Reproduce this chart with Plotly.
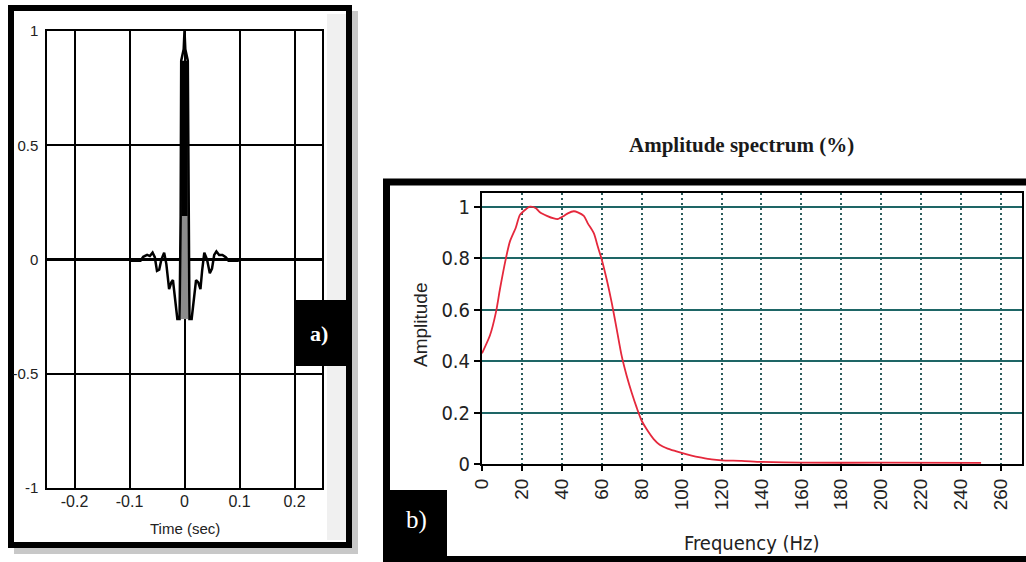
import plotly.graph_objects as go

W, H = 1026, 562

# ---------------- data ----------------
# a) wavelet (time in s, normalised amplitude)
wave_t = [-0.2, -0.1, -0.097, -0.08, -0.075, -0.068, -0.063, -0.058, -0.054, -0.05,
          -0.046, -0.042, -0.037, -0.033, -0.028, -0.024, -0.021, -0.017, -0.013, -0.009,
          -0.007, -0.006, -0.0015, 0.0, 0.0015, 0.006, 0.007, 0.009, 0.013, 0.017,
          0.021, 0.025, 0.029, 0.032, 0.036, 0.041, 0.046, 0.05, 0.054, 0.058,
          0.063, 0.069, 0.075, 0.08, 0.097, 0.1, 0.2]
wave_amp = [0, 0, -0.005, -0.005, 0.012, 0.02, 0.015, 0.03, 0.01, -0.05,
            -0.045, 0.0, 0.03, -0.02, -0.13, -0.1, -0.09, -0.18, -0.26, -0.26,
            0.19, 0.87, 0.92, 1.0, 0.92, 0.87, 0.19, -0.26, -0.26, -0.16,
            -0.09, -0.1, -0.13, -0.05, 0.03, 0.0, -0.06, -0.04, 0.02, 0.035,
            0.02, 0.02, 0.01, -0.005, -0.005, 0, 0]
# central band of the wavelet (dense oscillation drawn as filled bands)
core_t = [0.0]
core_low = [0.19]
core_high = [0.87]
band_low = [-0.26]
band_high = [0.19]

t_ticks = [-0.2, -0.1, 0, 0.1, 0.2]
t_ticktext = ["-0.2", "-0.1", "0", "0.1", "0.2"]
a_ticks = [-1, -0.5, 0, 0.5, 1]
a_ticktext = ["-1", "-0.5", "0", "0.5", "1"]

# b) amplitude spectrum
freq = [0, 4, 7, 9, 12, 14, 17, 19, 22, 24,
        27, 29, 32.5, 36, 38, 41, 43, 46, 48, 51,
        53, 56, 58, 60, 62.5, 65, 67.5, 70, 72.5, 75,
        77.5, 80, 82.5, 86, 89, 93, 97, 100, 105, 110,
        115, 120, 130, 140, 160, 200, 250]
spec = [0.43, 0.50, 0.59, 0.68, 0.80, 0.865, 0.92, 0.968, 0.99, 1.0,
        0.994, 0.978, 0.964, 0.954, 0.952, 0.964, 0.974, 0.982, 0.978, 0.964,
        0.935, 0.897, 0.845, 0.794, 0.716, 0.626, 0.523, 0.419, 0.342, 0.277,
        0.219, 0.168, 0.135, 0.097, 0.075, 0.06, 0.05, 0.043, 0.033, 0.025,
        0.018, 0.014, 0.012, 0.008, 0.005, 0.005, 0.004]
f_ticks = list(range(0, 261, 20))
s_ticks = [0, 0.2, 0.4, 0.6, 0.8, 1]
s_ticktext = ["0", "0.2", "0.4", "0.6", "0.8", "1"]

# ---------------- helpers ----------------
def px(x):
    return x / W

def py(y):
    return 1 - y / H

SANS = "Liberation Sans, Arial, sans-serif"
NARROW = "Liberation Sans Narrow, Arial Narrow, DejaVu Sans Condensed, sans-serif"
SERIF = "Liberation Serif, Times New Roman, serif"

fig = go.Figure()

fig.add_trace(go.Bar(x=core_t, y=[h - l for h, l in zip(core_high, core_low)], base=core_low,
                     width=0.012, marker=dict(color="black", line=dict(width=0)),
                     xaxis="x", yaxis="y", hoverinfo="skip"))
fig.add_trace(go.Bar(x=core_t, y=[h - l for h, l in zip(band_high, band_low)], base=band_low,
                     width=0.013, marker=dict(color="#8c8c8c", line=dict(width=0)),
                     xaxis="x", yaxis="y", hoverinfo="skip"))
fig.add_trace(go.Scatter(x=wave_t, y=wave_amp, mode="lines",
                         line=dict(color="black", width=2.5),
                         xaxis="x", yaxis="y", hoverinfo="skip"))

fig.add_trace(go.Scatter(x=freq, y=spec, mode="lines",
                         line=dict(color="#e5283c", width=1.8, shape="spline", smoothing=0.7),
                         xaxis="x2", yaxis="y2", hoverinfo="skip"))

shapes = [
    # left panel shadow + frame
    dict(type="rect", xref="paper", yref="paper", x0=px(14), x1=px(358), y0=py(11), y1=py(554),
         fillcolor="#9a9a9a", opacity=0.55, line=dict(width=0), layer="below"),
    dict(type="rect", xref="paper", yref="paper", x0=px(11), x1=px(349), y0=py(8), y1=py(545),
         fillcolor="white", line=dict(color="black", width=6), layer="below"),
    dict(type="rect", xref="paper", yref="paper", x0=px(327), x1=px(346), y0=py(14), y1=py(540),
         fillcolor="#f0f0f0", line=dict(width=0), layer="below"),
    # right panel frame
    dict(type="rect", xref="paper", yref="paper", x0=px(386.5), x1=px(1045), y0=py(182), y1=py(559.5),
         fillcolor="white", line=dict(color="black", width=7), layer="below"),
    # label boxes
    dict(type="rect", xref="paper", yref="paper", x0=px(294), x1=px(352), y0=py(300), y1=py(366),
         fillcolor="black", line=dict(width=0), layer="above"),
    dict(type="rect", xref="paper", yref="paper", x0=px(383), x1=px(447), y0=py(490), y1=py(565),
         fillcolor="black", line=dict(width=0), layer="above"),
]

annotations = [
    dict(text="Time (sec)", x=px(185), y=py(528), font=dict(family=SANS, size=15, color="#222")),
    dict(text="Amplitude", x=px(420), y=py(325), textangle=-90,
         font=dict(family=SANS, size=19, color="#222")),
    dict(text="Frequency (Hz)", x=px(752), y=py(543), font=dict(family=NARROW, size=20, color="#222")),
    dict(text="<b>Amplitude spectrum (%)</b>", x=px(741), y=py(145),
         font=dict(family=SERIF, size=21, color="#1a1a1a")),
    dict(text="<b>a)</b>", x=px(319), y=py(333), font=dict(family=SERIF, size=22, color="white")),
    dict(text="b)", x=px(416), y=py(520), font=dict(family=SERIF, size=25, color="white")),
]
for a in annotations:
    a.update(xref="paper", yref="paper", showarrow=False, xanchor="center", yanchor="middle")

fig.update_layout(
    width=W, height=H,
    margin=dict(l=0, r=0, t=0, b=0, pad=0),
    paper_bgcolor="white", plot_bgcolor="rgba(0,0,0,0)",
    showlegend=False, barmode="overlay",
    shapes=shapes, annotations=annotations,
    xaxis=dict(domain=[px(47), px(322)], range=[-0.25, 0.25], anchor="y", automargin=False,
               tickvals=t_ticks, ticktext=t_ticktext,
               showgrid=True, gridcolor="black", gridwidth=1.5, zeroline=False,
               showline=True, linecolor="black", linewidth=1.5, mirror=True,
               ticks="", ticklabelstandoff=-2,
               tickfont=dict(family=SANS, size=16, color="#222"), fixedrange=True),
    yaxis=dict(domain=[py(488), py(31)], range=[-1, 1], anchor="x", automargin=False,
               tickvals=a_ticks, ticktext=a_ticktext,
               showgrid=True, gridcolor="black", gridwidth=1.5,
               zeroline=True, zerolinecolor="black", zerolinewidth=2.5,
               showline=True, linecolor="black", linewidth=1.5, mirror=True,
               ticks="", ticklabelstandoff=4,
               tickfont=dict(family=SANS, size=15, color="#222"), fixedrange=True),
    xaxis2=dict(domain=[px(482), px(1022)], range=[0, 270.5], anchor="y2", automargin=False,
                tickvals=f_ticks, tickangle=-90,
                showgrid=True, gridcolor="#2c5c5c", gridwidth=2, griddash="2px,3px",
                zeroline=False,
                showline=True, linecolor="black", linewidth=2, mirror=True,
                ticks="outside", ticklen=5, tickwidth=1.5, tickcolor="black",
                tickfont=dict(family=SANS, size=19, color="#222"), fixedrange=True),
    yaxis2=dict(domain=[py(464), py(193)], range=[0, 1.053], anchor="x2", automargin=False,
                tickvals=s_ticks, ticktext=s_ticktext,
                showgrid=True, gridcolor="#1e6666", gridwidth=2,
                zeroline=False,
                showline=True, linecolor="black", linewidth=2, mirror=True,
                ticks="outside", ticklen=6, tickwidth=2, tickcolor="black",
                tickfont=dict(family=NARROW, size=20, color="#222"), fixedrange=True),
)

fig.write_html("out.html")
